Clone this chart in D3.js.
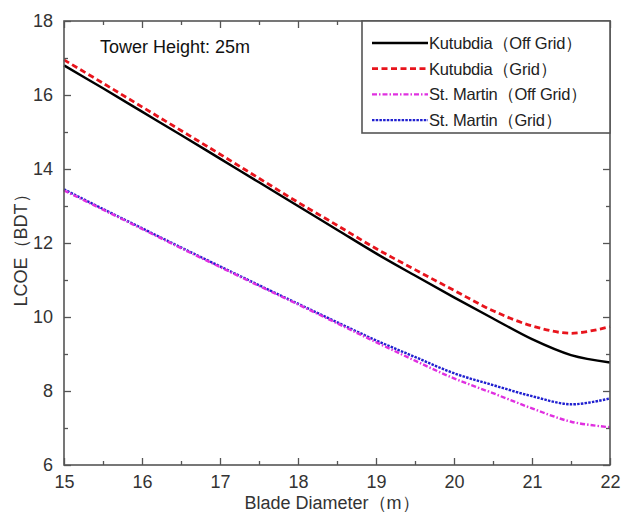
<!DOCTYPE html>
<html><head><meta charset="utf-8">
<script src="https://cdn.jsdelivr.net/npm/d3@7"></script>
<style>body{margin:0;background:#fff}svg{display:block}text{font-family:"Liberation Sans",Arial,sans-serif}</style>
</head><body><svg id="c" width="621" height="513"></svg>
<script>
const bladeDiameter = [15,15.5,16,16.5,17,17.5,18,18.5,19,19.5,20,20.5,21,21.5,22];
const kutubdiaOff  = [16.8,16.18,15.55,14.92,14.28,13.64,13.0,12.36,11.72,11.12,10.53,9.96,9.40,8.97,8.77];
const kutubdiaGrid = [16.95,16.32,15.68,15.04,14.4,13.75,13.1,12.48,11.85,11.28,10.72,10.17,9.76,9.56,9.74];
const martinOff    = [13.42,12.9,12.38,11.86,11.35,10.84,10.34,9.83,9.32,8.82,8.34,7.94,7.53,7.17,7.02];
const martinGrid   = [13.45,12.92,12.4,11.88,11.37,10.86,10.36,9.86,9.37,8.92,8.48,8.16,7.86,7.64,7.80];
const seriesNames = ["Kutubdia（Off Grid）","Kutubdia（Grid）","St. Martin（Off Grid）","St. Martin（Grid）"];
const xTicks = [15,16,17,18,19,20,21,22];
const yTicks = [6,8,10,12,14,16,18];

const svg = d3.select("#c");
const L=64,R=610,T=21,B=465;
const x = d3.scaleLinear().domain([15,22]).range([L,R]);
const y = d3.scaleLinear().domain([6,18]).range([B,T]);
const axisColor="#555";

const series = [
  {v:kutubdiaOff, color:"#000", dash:null, w:2.4},
  {v:kutubdiaGrid, color:"#e8141c", dash:"6,3.5", w:2.8},
  {v:martinOff, color:"#e030e0", dash:"5,2,1.5,2", w:2.4},
  {v:martinGrid, color:"#2020d0", dash:"2.5,1.2", w:2.4}
];
const line = d3.line().x((d,i)=>x(bladeDiameter[i])).y(d=>y(d)).curve(d3.curveCatmullRom);
series.slice().reverse().forEach(s=>{
  svg.append("path").attr("d",line(s.v)).attr("fill","none").attr("stroke",s.color)
    .attr("stroke-width",s.w).attr("stroke-dasharray",s.dash);
});

// axes with inward ticks
const minorX = d3.range(15.5,22,1);
const minorY = d3.range(7,18,2);
function ax(g, axis){ g.call(axis); g.select(".domain").remove(); g.selectAll("line").attr("stroke",axisColor).attr("stroke-width",1.3); g.selectAll("text").attr("fill","#333").style("font-size","18px"); }
svg.append("g").attr("transform",`translate(0,${B})`).call(g=>ax(g,d3.axisBottom(x).tickValues(xTicks).tickSize(-7).tickPadding(10).tickFormat(d3.format("d"))));
svg.append("g").attr("transform",`translate(0,${B})`).call(g=>ax(g,d3.axisBottom(x).tickValues(minorX).tickSize(-4).tickFormat("")));
svg.append("g").attr("transform",`translate(0,${T})`).call(g=>ax(g,d3.axisTop(x).tickValues(xTicks).tickSize(-7).tickFormat("")));
svg.append("g").attr("transform",`translate(0,${T})`).call(g=>ax(g,d3.axisTop(x).tickValues(minorX).tickSize(-4).tickFormat("")));
svg.append("g").attr("transform",`translate(${L},0)`).call(g=>ax(g,d3.axisLeft(y).tickValues(yTicks).tickSize(-7).tickPadding(11).tickFormat(d3.format("d"))));
svg.append("g").attr("transform",`translate(${L},0)`).call(g=>ax(g,d3.axisLeft(y).tickValues(minorY).tickSize(-4).tickFormat("")));
svg.append("g").attr("transform",`translate(${R},0)`).call(g=>ax(g,d3.axisRight(y).tickValues(yTicks).tickSize(-7).tickFormat("")));
svg.append("g").attr("transform",`translate(${R},0)`).call(g=>ax(g,d3.axisRight(y).tickValues(minorY).tickSize(-4).tickFormat("")));
svg.append("rect").attr("x",L).attr("y",T).attr("width",R-L).attr("height",B-T)
  .attr("fill","none").attr("stroke",axisColor).attr("stroke-width",1.6);

// titles
svg.append("text").attr("x",332).attr("y",509).attr("text-anchor","middle").attr("fill","#333")
  .style("font-size","18px").text("Blade Diameter（m）");
svg.append("text").attr("transform","translate(27,246) rotate(-90)").attr("text-anchor","middle").attr("fill","#333")
  .style("font-size","18px").text("LCOE（BDT）");
svg.append("text").attr("x",100).attr("y",53).attr("fill","#111").style("font-size","18px").text("Tower Height: 25m");

// legend
const lg = svg.append("g");
lg.append("rect").attr("x",362).attr("y",T).attr("width",R-362).attr("height",112)
  .attr("fill","#fff").attr("stroke",axisColor).attr("stroke-width",1.6);
series.forEach((s,i)=>{
  const yy = 43 + i*25.7;
  lg.append("line").attr("x1",372).attr("x2",428).attr("y1",yy).attr("y2",yy)
    .attr("stroke",s.color).attr("stroke-width",s.w).attr("stroke-dasharray",s.dash);
  lg.append("text").attr("x",429).attr("y",yy+6).attr("fill","#222").style("font-size","16.5px")
    .attr("letter-spacing","-0.2").text(seriesNames[i]);
});
</script></body></html>
